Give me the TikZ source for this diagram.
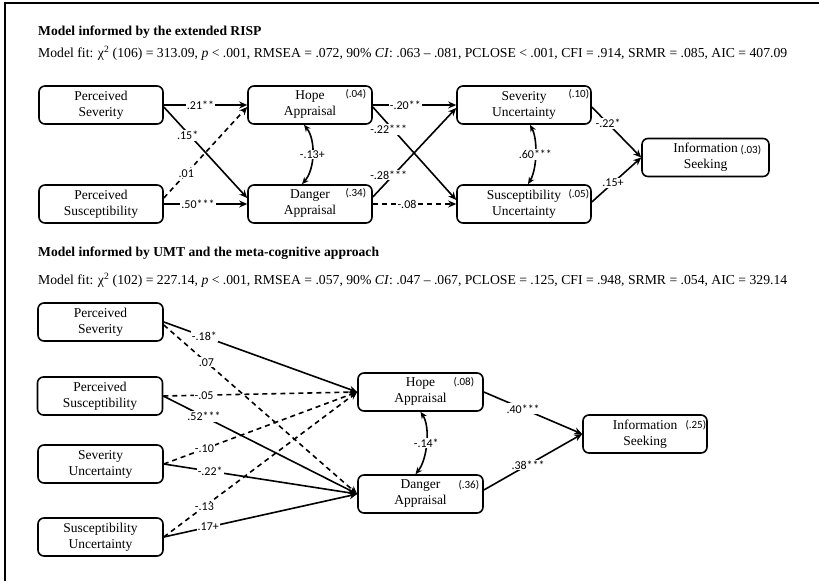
\documentclass[tikz,border=0pt]{standalone}
\usepackage{fontspec}
\setmainfont{Liberation Serif}
\newfontfamily\labfont{Carlito}
\usetikzlibrary{arrows.meta}
\begin{document}
\begin{tikzpicture}[x=1pt,y=-1pt,
 box/.style={draw, line width=1.6pt, rounded corners=6pt, minimum height=38pt, align=center,
   font=\fontsize{13.5}{16}\selectfont, inner sep=0pt},
 rsq/.style={font=\labfont\fontsize{11}{12}\selectfont, inner sep=0pt},
 lab/.style={font=\labfont\fontsize{12}{13}\selectfont, fill=white, inner sep=1pt},
 arr/.style={line width=1.6pt, -{Stealth[length=8pt,width=7pt]}},
 dsh/.style={arr, dash pattern=on 5pt off 4pt},
 dbl/.style={line width=1.6pt, {Stealth[length=7pt,width=6pt]}-{Stealth[length=7pt,width=6pt]}},
 head/.style={anchor=west, inner sep=0pt, font=\bfseries\fontsize{13.6}{16}\selectfont},
 fit/.style={anchor=west, inner sep=0pt, font=\fontsize{13.7}{16}\selectfont},
]
\useasboundingbox (0,0) rectangle (819,581);
\draw[line width=1.2pt] (5,581) -- (5,3) -- (819,3);

% ---------- headers ----------
\node[head] (t1) at (38,32) {Model informed by the extended RISP};
\node[fit] (f1) at (38,53) {Model fit: χ\textsuperscript{2} (106) = 313.09, \textit{p} < .001, RMSEA = .072, 90\% \textit{CI}: .063 – .081, PCLOSE < .001, CFI = .914, SRMR = .085, AIC = 407.09};
\node[head] (t2) at (38,253) {Model informed by UMT and the meta-cognitive approach};
\node[fit] (f2) at (38,280) {Model fit: χ\textsuperscript{2} (102) = 227.14, \textit{p} < .001, RMSEA = .057, 90\% \textit{CI}: .047 – .067, PCLOSE = .125, CFI = .948, SRMR = .054, AIC = 329.14};

% ---------- top model ----------
\node[box, minimum width=124pt] (ps1) at (101,105) {Perceived\\Severity};
\node[box, minimum width=124pt] (psu1) at (101,204) {Perceived\\Susceptibility};
\node[box, minimum width=124pt] (hope1) at (310,105) {Hope\\Appraisal};
\node[box, minimum width=124pt] (dan1) at (310,204) {Danger\\Appraisal};
\node[box, minimum width=134pt] (sevu1) at (524,105) {Severity\\Uncertainty};
\node[box, minimum width=134pt] (susu1) at (524,204) {Susceptibility\\Uncertainty};
\node[box, minimum width=127pt] (info1) at (705.5,157.5) {Information\\Seeking};

\node[rsq] (r1a) at ([xshift=-17pt,yshift=-9pt]hope1.north east) {(.04)};
\node[rsq] (r1b) at ([xshift=-17pt,yshift=-9pt]dan1.north east) {(.34)};
\node[rsq] (r1c) at ([xshift=-13pt,yshift=-9pt]sevu1.north east) {(.10)};
\node[rsq] (r1d) at ([xshift=-13pt,yshift=-10pt]susu1.north east) {(.05)};
\node[rsq] (r1e) at ([xshift=-19pt,yshift=-13pt]info1.north east) {(.03)};

\draw[arr] (ps1.east) -- node[lab,pos=.44]{.21**} (hope1.west);
\draw[arr] ([yshift=-2pt]ps1.east) -- node[lab,pos=.31,xshift=-2pt]{.15*} ([yshift=6pt]dan1.west);
\draw[dsh] ([yshift=6pt]psu1.east) -- node[lab,pos=.27]{.01} ([yshift=-2pt]hope1.west);
\draw[arr] (psu1.east) -- node[lab,pos=.41]{.50***} (dan1.west);
\draw[dbl] ([xshift=-6pt]hope1.south) .. controls +(12,15) and +(13,-15) .. node[lab,pos=.5]{-.13+} ([xshift=-8pt]dan1.north);

\draw[arr] (hope1.east) -- node[lab,pos=.39]{-.20**} (sevu1.west);
\draw[arr] ([yshift=-2pt]hope1.east) -- node[lab,pos=.19,yshift=-5pt]{-.22***} ([yshift=4pt]susu1.west);
\draw[arr] ([yshift=7pt]dan1.east) -- node[lab,pos=.19,yshift=5pt]{-.28***} ([yshift=-3pt]sevu1.west);
\draw[dsh] (dan1.east) -- node[lab,pos=.41]{-.08} (susu1.west);
\draw[dbl] ([xshift=6pt]sevu1.south) .. controls +(8,15) and +(9,-15) .. node[lab,pos=.5]{.60***} ([xshift=4pt]susu1.north);

\draw[arr] ([yshift=-2pt]sevu1.east) -- node[lab,pos=.33]{-.22*} (info1.west);
\draw[arr] ([yshift=2pt]susu1.east) -- node[lab,pos=.43]{.15+} (info1.west);

% ---------- bottom model ----------
\node[box, minimum width=125pt] (ps2) at (100.5,322) {Perceived\\Severity};
\node[box, minimum width=125pt] (psu2) at (100,396) {Perceived\\Susceptibility};
\node[box, minimum width=125pt] (sevu2) at (100.5,464) {Severity\\Uncertainty};
\node[box, minimum width=125pt] (susu2) at (100.5,537) {Susceptibility\\Uncertainty};
\node[box, minimum width=125pt] (hope2) at (420.5,392) {Hope\\Appraisal};
\node[box, minimum width=125pt] (dan2) at (420.5,494) {Danger\\Appraisal};
\node[box, minimum width=124pt] (info2) at (645,434) {Information\\Seeking};

\node[rsq] (r2a) at ([xshift=-20pt,yshift=-10pt]hope2.north east) {(.08)};
\node[rsq] (r2b) at ([xshift=-15pt,yshift=-11pt]dan2.north east) {(.36)};
\node[rsq] (r2c) at ([xshift=-12pt,yshift=-11pt]info2.north east) {(.25)};

\draw[arr] (ps2.east) -- node[lab,pos=.21]{-.18*} (hope2.west);
\draw[dsh] ([yshift=-3pt]ps2.east) -- node[lab,pos=.22]{.07} (dan2.west);
\draw[dsh] (psu2.east) -- node[lab,pos=.21]{-.05} (hope2.west);
\draw[arr] (psu2.east) -- node[lab,pos=.21]{.52***} (dan2.west);
\draw[dsh] (sevu2.east) -- node[lab,pos=.21]{-.10} (hope2.west);
\draw[arr] (sevu2.east) -- node[lab,pos=.24]{-.22*} (dan2.west);
\draw[dsh] (susu2.east) -- node[lab,pos=.21]{-.13} (hope2.west);
\draw[arr] (susu2.east) -- node[lab,pos=.23]{.17+} (dan2.west);

\draw[dbl] (hope2.south) .. controls +(10,15) and +(12,-15) .. node[lab,pos=.5]{-.14*} ([xshift=-5pt]dan2.north);

\draw[arr] (hope2.east) -- node[lab,pos=.40]{.40***} (info2.west);
\draw[arr] ([yshift=4pt]dan2.east) -- node[lab,pos=.45]{.38***} (info2.west);
\end{tikzpicture}
\end{document}
